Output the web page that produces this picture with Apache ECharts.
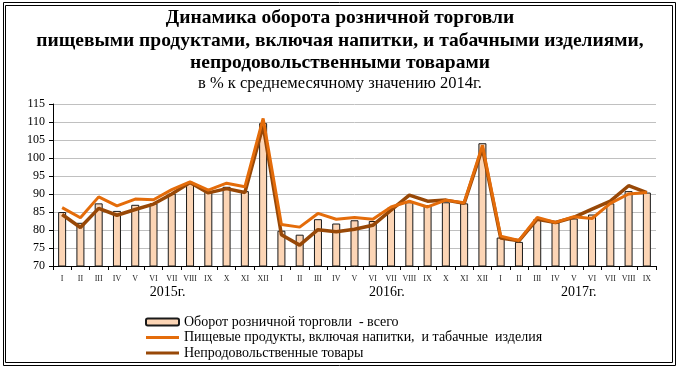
<!DOCTYPE html>
<html>
<head>
<meta charset="utf-8">
<script src="https://cdn.jsdelivr.net/npm/echarts@6/dist/echarts.min.js"></script>
<style>
html,body{margin:0;padding:0;background:#fff;}
#c{width:680px;height:370px;}
</style>
</head>
<body>
<div id="c"></div>
<script>
const months = ['I','II','III','IV','V','VI','VII','VIII','IX','X','XI','XII',
                'I','II','III','IV','V','VI','VII','VIII','IX','X','XI','XII',
                'I','II','III','IV','V','VI','VII','VIII','IX'];
const years = [{label:'2015г.', from:0, to:11}, {label:'2016г.', from:12, to:23}, {label:'2017г.', from:24, to:32}];
const total = [85.0, 82.0, 87.4, 85.3, 87.0, 87.4, 90.1, 93.2, 90.6, 92.0, 90.8, 109.7,
               79.8, 78.7, 83.0, 81.8, 82.7, 82.5, 86.2, 87.7, 86.9, 87.7, 87.4, 104.1,
               77.9, 76.7, 83.0, 82.1, 83.2, 84.3, 87.4, 90.8, 90.4];
const food = [86.2, 83.4, 89.2, 86.7, 88.6, 88.4, 91.2, 93.4, 91.1, 93.0, 92.0, 111.0,
              81.5, 80.8, 84.6, 83.0, 83.5, 83.0, 86.4, 88.0, 86.4, 88.3, 87.6, 103.5,
              78.3, 77.1, 83.5, 82.1, 83.7, 83.2, 87.4, 90.0, 90.4];
const nonfood = [84.3, 80.7, 86.0, 84.1, 85.7, 87.2, 90.0, 93.2, 90.3, 91.5, 90.4, 109.0,
                 78.7, 75.8, 80.1, 79.5, 80.2, 81.3, 85.5, 89.7, 88.0, 88.3, 87.4, 102.7,
                 77.8, 77.0, 83.0, 82.1, 83.5, 85.8, 88.0, 92.3, 90.4];
const names = ['Оборот розничной торговли  - всего',
               'Пищевые продукты, включая напитки,  и табачные  изделия',
               'Непродовольственные товары'];
const titleLines = ['Динамика оборота розничной торговли',
                    'пищевыми продуктами, включая напитки, и табачными изделиями,',
                    'непродовольственными товарами'];
const subtitle = 'в % к среднемесячному значению 2014г.';

const SERIF = '"Liberation Serif", "DejaVu Serif", serif';
const chart = echarts.init(document.getElementById('c'), null, {renderer:'canvas'});
const titleTops = [8, 31, 53];
const titles = titleLines.map((t, i) => ({
  text: t, left: 'center', top: titleTops[i], padding: 0,
  textStyle: {fontFamily: SERIF, fontSize: 19.5, fontWeight: 'bold', color: '#000'}
}));
titles.push({text: subtitle, left: 'center', top: 75, padding: 0,
  textStyle: {fontFamily: SERIF, fontSize: 16.5, fontWeight: 'normal', color: '#000'}});

const lineIcon = 'path://M0,0h32v3h-32z';
chart.setOption({
  animation: false,
  title: titles,
  grid: {left: 53, right: 24, top: 104, bottom: 104},
  legend: {
    orient: 'vertical', left: 140, top: 310, itemWidth: 33, itemHeight: 7, itemGap: 1.5,
    textStyle: {fontFamily: SERIF, fontSize: 14, color: '#000'},
    data: [{name: names[0], icon: 'roundRect'}, {name: names[1], icon: lineIcon}, {name: names[2], icon: lineIcon}]
  },
  xAxis: {
    type: 'category', data: months, boundaryGap: true,
    axisLine: {lineStyle: {color: '#000', width: 1}},
    axisTick: {show: true, length: 4, lineStyle: {color: '#000'}},
    axisLabel: {fontFamily: SERIF, fontSize: 8, color: '#222', margin: 9, interval: 0}
  },
  yAxis: {
    type: 'value', min: 70, max: 115, interval: 5,
    axisLine: {show: true, lineStyle: {color: '#000', width: 1}},
    axisTick: {show: true, inside: false, length: 4, lineStyle: {color: '#000'}},
    axisLabel: {fontFamily: SERIF, fontSize: 12, color: '#000', margin: 8},
    splitLine: {lineStyle: {color: '#C0C0C0', width: 1}}
  },
  series: [
    {name: names[0], type: 'bar', data: total, barWidth: 8,
     itemStyle: {color: '#FCD5B5', borderColor: '#1a1a1a', borderWidth: 1}},
    {name: names[2], type: 'line', data: nonfood, symbol: 'none',
     lineStyle: {color: '#984807', width: 3.5}, itemStyle: {color: '#984807'}, z: 3},
    {name: names[1], type: 'line', data: food, symbol: 'none',
     lineStyle: {color: '#E46C0A', width: 3}, itemStyle: {color: '#E46C0A'}, z: 4}
  ]
});

const graphics = [
  {type: 'rect', shape: {x: 3.5, y: 2.5, width: 672, height: 363}, style: {fill: null, stroke: '#000', lineWidth: 1}, silent: true},
  {type: 'rect', shape: {x: 5.5, y: 5.5, width: 667, height: 357}, style: {fill: null, stroke: '#000', lineWidth: 1}, silent: true}
];
years.forEach(y => {
  const x0 = chart.convertToPixel({xAxisIndex: 0}, y.from);
  const x1 = chart.convertToPixel({xAxisIndex: 0}, y.to);
  graphics.push({type: 'text', x: (x0 + x1) / 2 + 5, y: 292,
    style: {text: y.label, fontFamily: SERIF, fontSize: 14, fill: '#000', align: 'center', verticalAlign: 'middle'}});
});
chart.setOption({graphic: graphics});
</script>
</body>
</html>
